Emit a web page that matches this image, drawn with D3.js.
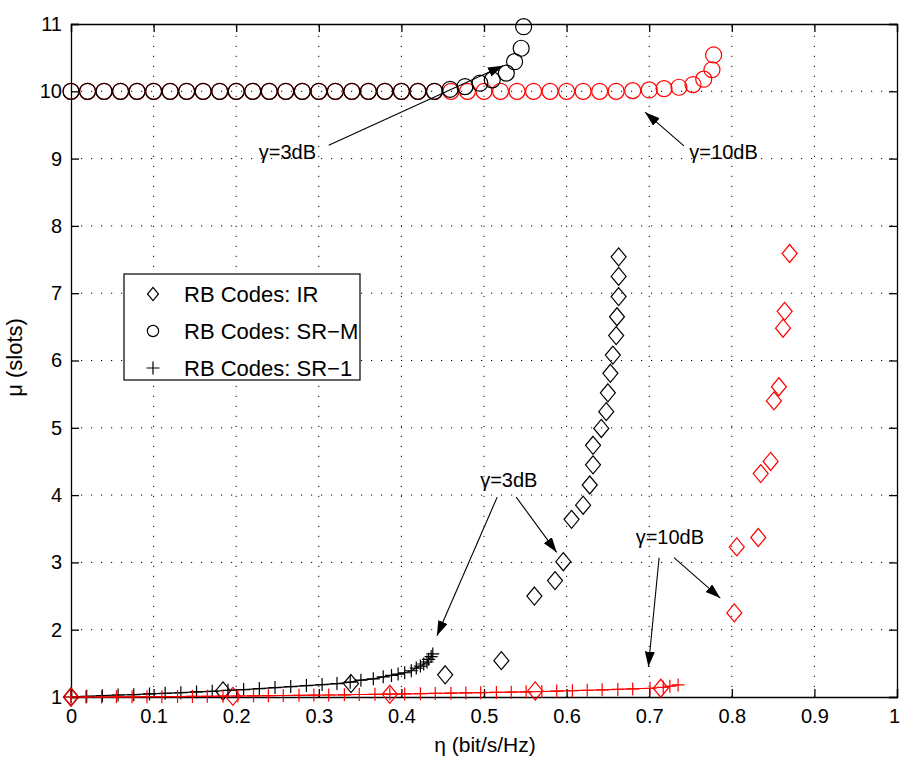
<!DOCTYPE html>
<html>
<head>
<meta charset="utf-8">
<script src="https://cdn.jsdelivr.net/npm/d3@7"></script>
<style>
  body { margin: 0; background: #fff; }
  svg text { font-family: "Liberation Sans", Arial, Helvetica, sans-serif; }
</style>
</head>
<body>
<svg></svg>
<script>
// --- data ---
var xTicks = [0, 0.1, 0.2, 0.3, 0.4, 0.5, 0.6, 0.7, 0.8, 0.9, 1],
    yTicks = [1, 2, 3, 4, 5, 6, 7, 8, 9, 10, 11];

// SR-M (circles)
var srm3X = [0, 0.02, 0.04, 0.06, 0.08, 0.10, 0.12, 0.14, 0.16, 0.18, 0.20, 0.22, 0.24, 0.26, 0.28, 0.30, 0.32, 0.34, 0.36, 0.38, 0.40, 0.42, 0.44, 0.459, 0.477, 0.495, 0.510, 0.527, 0.537, 0.545, 0.548],
    srm3Y = [10, 10, 10, 10, 10, 10, 10, 10, 10, 10, 10, 10, 10, 10, 10, 10, 10, 10, 10, 10, 10, 10, 10, 10.03, 10.07, 10.12, 10.17, 10.27, 10.44, 10.64, 10.96];
var srm10X = [0, 0.02, 0.04, 0.06, 0.08, 0.10, 0.12, 0.14, 0.16, 0.18, 0.20, 0.22, 0.24, 0.26, 0.28, 0.30, 0.32, 0.34, 0.36, 0.38, 0.40, 0.42, 0.44, 0.46, 0.48, 0.50, 0.52, 0.54, 0.56, 0.58, 0.60, 0.62, 0.64, 0.66, 0.68, 0.70, 0.718, 0.736, 0.753, 0.766, 0.776, 0.778],
    srm10Y = [10, 10, 10, 10, 10, 10, 10, 10, 10, 10, 10, 10, 10, 10, 10, 10, 10, 10, 10, 10, 10, 10, 10, 10, 10, 10, 10, 10, 10, 10, 10, 10, 10, 10, 10.01, 10.02, 10.04, 10.06, 10.10, 10.18, 10.32, 10.54];

// IR (diamonds)
var ir3X = [0, 0.184, 0.339, 0.453, 0.521, 0.561, 0.586, 0.596, 0.606, 0.620, 0.628, 0.632, 0.632, 0.642, 0.648, 0.650, 0.653, 0.656, 0.660, 0.661, 0.663, 0.663, 0.663],
    ir3Y = [1.0, 1.09, 1.20, 1.33, 1.54, 2.50, 2.73, 3.01, 3.64, 3.85, 4.15, 4.45, 4.74, 4.99, 5.24, 5.52, 5.81, 6.08, 6.37, 6.65, 6.95, 7.25, 7.54];
var ir10X = [0, 0.196, 0.386, 0.562, 0.714, 0.803, 0.806, 0.832, 0.835, 0.847, 0.851, 0.857, 0.862, 0.864, 0.870],
    ir10Y = [1.0, 1.01, 1.04, 1.09, 1.13, 2.25, 3.23, 3.37, 4.32, 4.50, 5.40, 5.61, 6.48, 6.73, 7.59];

// SR-1 (plus, joined)
var sr13X = [0, 0.019, 0.038, 0.057, 0.076, 0.095, 0.114, 0.133, 0.152, 0.171, 0.190, 0.209, 0.228, 0.247, 0.266, 0.285, 0.304, 0.322, 0.338, 0.351, 0.366, 0.378, 0.388, 0.396, 0.404, 0.412, 0.418, 0.423, 0.427, 0.431, 0.433, 0.436, 0.438],
    sr13Y = [1.0, 1.01, 1.02, 1.03, 1.035, 1.045, 1.055, 1.065, 1.075, 1.085, 1.10, 1.11, 1.125, 1.14, 1.155, 1.17, 1.185, 1.20, 1.22, 1.25, 1.27, 1.30, 1.32, 1.34, 1.36, 1.39, 1.43, 1.46, 1.49, 1.52, 1.56, 1.60, 1.64];
var sr110X = [0, 0.018, 0.037, 0.055, 0.074, 0.092, 0.110, 0.129, 0.147, 0.165, 0.184, 0.202, 0.221, 0.239, 0.257, 0.276, 0.294, 0.312, 0.331, 0.349, 0.368, 0.386, 0.404, 0.423, 0.441, 0.460, 0.478, 0.496, 0.515, 0.533, 0.551, 0.570, 0.588, 0.607, 0.625, 0.643, 0.662, 0.680, 0.701, 0.717, 0.725, 0.735],
    sr110Y = [1.0, 1.0, 1.0, 1.002, 1.003, 1.004, 1.005, 1.006, 1.008, 1.01, 1.012, 1.015, 1.018, 1.02, 1.022, 1.025, 1.028, 1.03, 1.033, 1.037, 1.04, 1.043, 1.046, 1.05, 1.053, 1.057, 1.06, 1.064, 1.068, 1.072, 1.077, 1.082, 1.088, 1.094, 1.10, 1.106, 1.113, 1.12, 1.13, 1.145, 1.16, 1.18];

var legendLabels = ["RB Codes: IR", "RB Codes: SR\u2212M", "RB Codes: SR\u22121"],
    legendShapes = ["diamond", "circle", "plus"];

// annotations: text position, and arrows [tailX, tailY, headX, headY]
var notes = [
  {text: "\u03b3=3dB", x: 0.262, y: 9.10, arrows: [[0.312, 9.20, 0.523, 10.38]]},
  {text: "\u03b3=10dB", x: 0.790, y: 9.10, arrows: [[0.742, 9.19, 0.695, 9.69]]},
  {text: "\u03b3=3dB", x: 0.530, y: 4.22, arrows: [[0.516, 3.97, 0.443, 1.91], [0.539, 3.97, 0.588, 3.15]]},
  {text: "\u03b3=10dB", x: 0.725, y: 3.38, arrows: [[0.712, 3.07, 0.699, 1.45], [0.730, 3.07, 0.786, 2.47]]}
];

var W = 900, H = 758,
    margin = {top: 24, right: 3, bottom: 61, left: 71},
    svg = d3.select("svg").attr("width", W).attr("height", H),
    x = d3.scaleLinear().domain([0, 1]).range([margin.left, W - margin.right]),
    y = d3.scaleLinear().domain([1, 11]).range([H - margin.bottom, margin.top]),
    tickLen = 8,
    fontSize = 20;

var x0 = x(0), x1 = x(1), y0 = y(1), y1 = y(11);

// grid
var grid = svg.append("g").attr("stroke", "#000").attr("stroke-width", 1).attr("stroke-dasharray", "1.2,8.8");
grid.selectAll(".gx").data(xTicks.slice(1, -1)).enter().append("line")
    .attr("x1", function(d) { return x(d); }).attr("x2", function(d) { return x(d); })
    .attr("y1", y0).attr("y2", y1);
grid.selectAll(".gy").data(yTicks.slice(1, -1)).enter().append("line")
    .attr("y1", function(d) { return y(d); }).attr("y2", function(d) { return y(d); })
    .attr("x1", x0).attr("x2", x1);

// axes with inward ticks on all sides
var xAxisG = svg.append("g").attr("transform", "translate(0," + y0 + ")")
    .call(d3.axisBottom(x).tickValues(xTicks).tickSize(-tickLen).tickPadding(12)
        .tickFormat(function(d) { return d3.format("~g")(d); }));
svg.append("g").attr("transform", "translate(0," + y1 + ")")
    .call(d3.axisTop(x).tickValues(xTicks).tickSize(-tickLen).tickFormat(""));
svg.append("g").attr("transform", "translate(" + x0 + ",0)")
    .call(d3.axisLeft(y).tickValues(yTicks).tickSize(-tickLen).tickPadding(9));
svg.append("g").attr("transform", "translate(" + x1 + ",0)")
    .call(d3.axisRight(y).tickValues(yTicks).tickSize(-tickLen).tickFormat(""));
svg.selectAll(".domain").attr("stroke", "#000").attr("stroke-width", 1.3);
svg.selectAll(".tick line").attr("stroke", "#000").attr("stroke-width", 1.3);
svg.selectAll(".tick text").attr("font-size", fontSize).attr("fill", "#000")
    .style("font-family", "'Liberation Sans', Arial, sans-serif");
// keep the last x label inside the window
xAxisG.selectAll(".tick text").filter(function(d) { return d === 1; }).attr("dx", -3);

// axis labels
svg.append("text").attr("x", (x0 + x1) / 2 + 1).attr("y", 752).attr("text-anchor", "middle")
    .attr("font-size", 21).text("\u03b7 (bit/s/Hz)");
svg.append("text").attr("transform", "translate(22," + ((y0 + y1) / 2 - 3) + ") rotate(-90)")
    .attr("text-anchor", "middle").attr("font-size", 22).text("\u03bc (slots)");

// markers
function shapePath(kind, s) {
  if (kind === "diamond") return "M0," + (-s * 1.2) + "L" + s + ",0L0," + (s * 1.2) + "L" + (-s) + ",0Z";
  if (kind === "plus") return "M" + (-s) + ",0H" + s + "M0," + (-s) + "V" + s;
  return null;
}
function zip(xs, ys) { return xs.map(function(v, i) { return [v, ys[i]]; }); }

function drawCircles(xs, ys, color) {
  svg.append("g").selectAll("circle").data(zip(xs, ys)).enter().append("circle")
      .attr("cx", function(d) { return x(d[0]); }).attr("cy", function(d) { return y(d[1]); })
      .attr("r", 8).attr("fill", "none").attr("stroke", color).attr("stroke-width", 1.2);
}
function drawShapes(xs, ys, kind, size, color) {
  svg.append("g").selectAll("path").data(zip(xs, ys)).enter().append("path")
      .attr("transform", function(d) { return "translate(" + x(d[0]) + "," + y(d[1]) + ")"; })
      .attr("d", shapePath(kind, size)).attr("fill", "none").attr("stroke", color).attr("stroke-width", 1.2);
}
function drawLine(xs, ys, color) {
  svg.append("path").datum(zip(xs, ys))
      .attr("d", d3.line().x(function(d) { return x(d[0]); }).y(function(d) { return y(d[1]); }))
      .attr("fill", "none").attr("stroke", color).attr("stroke-width", 1.2);
}

drawCircles(srm10X, srm10Y, "#ff0000");
drawCircles(srm3X, srm3Y, "#000");
drawShapes(ir3X, ir3Y, "diamond", 7.5, "#000");
drawShapes(ir10X, ir10Y, "diamond", 7.5, "#ff0000");
drawLine(sr13X, sr13Y, "#000");
drawShapes(sr13X, sr13Y, "plus", 6.5, "#000");
drawLine(sr110X, sr110Y, "#ff0000");
drawShapes(sr110X, sr110Y, "plus", 6.5, "#ff0000");

// annotations
svg.append("defs").append("marker").attr("id", "head")
    .attr("markerUnits", "userSpaceOnUse").attr("markerWidth", 16).attr("markerHeight", 12)
    .attr("refX", 15).attr("refY", 5).attr("orient", "auto")
  .append("path").attr("d", "M0,0L15,5L0,10Z").attr("fill", "#000");

notes.forEach(function(n) {
  svg.append("text").attr("x", x(n.x)).attr("y", y(n.y) + 7).attr("text-anchor", "middle")
      .attr("font-size", fontSize).text(n.text);
  n.arrows.forEach(function(a) {
    svg.append("line").attr("x1", x(a[0])).attr("y1", y(a[1])).attr("x2", x(a[2])).attr("y2", y(a[3]))
        .attr("stroke", "#000").attr("stroke-width", 1.1).attr("marker-end", "url(#head)");
  });
});

// legend
var lg = svg.append("g").attr("transform", "translate(124,274)");
lg.append("rect").attr("width", 236).attr("height", 106).attr("fill", "#fff")
    .attr("stroke", "#000").attr("stroke-width", 1.2);
var item = lg.selectAll(".item").data(legendLabels).enter().append("g")
    .attr("transform", function(d, i) { return "translate(0," + (20 + i * 37) + ")"; });
item.append("path")
    .attr("transform", "translate(29,0)")
    .attr("d", function(d, i) {
      var k = legendShapes[i];
      return k === "circle" ? d3.symbol().type(d3.symbolCircle).size(100)() : shapePath(k, k === "plus" ? 6.5 : 5.5);
    })
    .attr("fill", "none").attr("stroke", "#000").attr("stroke-width", 1.2);
item.append("text").attr("x", 60).attr("y", 8).attr("font-size", 22).text(function(d) { return d; });
</script>
</body>
</html>
